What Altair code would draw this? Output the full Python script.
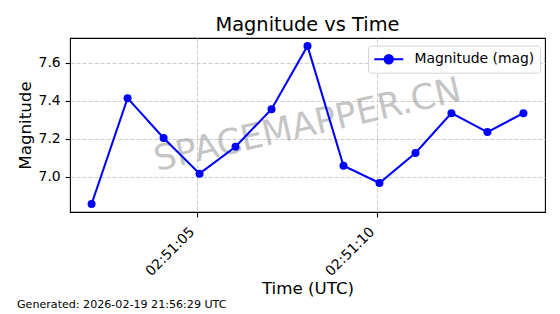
import altair as alt
import pandas as pd

# Data
times = [
    "2026-02-19T02:51:02.070Z", "2026-02-19T02:51:03.070Z", "2026-02-19T02:51:04.070Z",
    "2026-02-19T02:51:05.070Z", "2026-02-19T02:51:06.070Z", "2026-02-19T02:51:07.070Z",
    "2026-02-19T02:51:08.070Z", "2026-02-19T02:51:09.070Z", "2026-02-19T02:51:10.070Z",
    "2026-02-19T02:51:11.070Z", "2026-02-19T02:51:12.070Z", "2026-02-19T02:51:13.070Z",
    "2026-02-19T02:51:14.070Z",
]
mags = [6.856, 7.414, 7.204, 7.016, 7.158, 7.356, 7.689, 7.058, 6.967, 7.125, 7.335, 7.235, 7.335]
series_name = "Magnitude (mag)"
x_tick_seconds = [5, 10]
y_ticks = [7.0, 7.2, 7.4, 7.6]
title_text = "Magnitude vs Time"
x_title = "Time (UTC)"
y_title = "Magnitude"
watermark = "SPACEMAPPER.CN"
footer = "Generated: 2026-02-19 21:56:29 UTC"

df = pd.DataFrame({"time": times, "mag": mags, "series": [series_name] * len(times)})

FONT = "DejaVu Sans"
BLUE = "#0000ff"


def dt(sec, ms=0):
    return alt.DateTime(year=2026, month=2, date=19, hours=2, minutes=51,
                        seconds=sec, milliseconds=ms, utc=True)


x_enc = alt.X(
    "time:T",
    scale=alt.Scale(type="utc", domain=[dt(1, 470), dt(14, 670)]),
    axis=alt.Axis(
        values=[dt(s) for s in x_tick_seconds],
        format="%H:%M:%S",
        title=x_title,
        labelAngle=-45,
        labelAlign="right",
        labelBaseline="top",
        labelOffset=-10,
        labelPadding=7.5,
        labelOverlap=False,
        labelFlush=False,
        titleX=237.5,
        titleY=81,
        titleBaseline="alphabetic",
        titleAlign="center",
    ),
)
y_enc = alt.Y(
    "mag:Q",
    scale=alt.Scale(domain=[6.814, 7.731], nice=False, zero=False),
    axis=alt.Axis(
        values=y_ticks,
        format=".1f",
        title=y_title,
        titleX=-40,
        titleBaseline="alphabetic",
        labelPadding=4.9,
    ),
)

base = alt.Chart(df)

line = base.mark_line(color=BLUE, strokeWidth=2.08).encode(x=x_enc, y=y_enc)

# legend glyph: line with a filled marker, in units of half the symbol box
legend_path = "M-1,0L3,0M0.42,0A0.58,0.58,0,1,1,1.58,0A0.58,0.58,0,1,1,0.42,0Z"

points = base.mark_circle(size=64, opacity=1).encode(
    x=x_enc,
    y=y_enc,
    color=alt.Color(
        "series:N",
        scale=alt.Scale(range=[BLUE]),
        legend=alt.Legend(
            title=None,
            orient="none",
            legendX=298,
            legendY=7.7,
            symbolType=legend_path,
            symbolSize=210,
            symbolStrokeColor=BLUE,
            symbolStrokeWidth=2.08,
            symbolFillColor=BLUE,
            symbolOpacity=1,
            labelFont=FONT,
            labelFontSize=13.9,
            labelColor="black",
            labelOffset=24.5,
            padding=5,
            fillColor="rgba(255,255,255,0.8)",
            strokeColor="#d6d6d6",
            cornerRadius=3,
        ),
    ),
)

wm = alt.Chart(pd.DataFrame({"t": [watermark]})).mark_text(
    font=FONT, fontSize=35, color="#808080", opacity=0.45, angle=347,
    align="center", baseline="middle",
).encode(text="t:N", x=alt.value(237.5), y=alt.value(87))

foot = alt.Chart(pd.DataFrame({"t": [footer]})).mark_text(
    font=FONT, fontSize=11.1, color="black", align="left", baseline="alphabetic",
).encode(text="t:N", x=alt.value(-53), y=alt.value(270))

chart = alt.layer(wm, line, points, foot).properties(
    width=475,
    height=174,
    background="white",
    title=alt.TitleParams(title_text, font=FONT, fontSize=19.4, fontWeight="normal",
                          anchor="middle", frame="group", baseline="bottom",
                          offset=6, dy=22, color="black"),
    autosize=alt.AutoSizeParams(type="none"),
    padding={"left": 70, "top": 38, "right": 15, "bottom": 102},
).configure_view(
    stroke="black", strokeWidth=1.1,
).configure_axis(
    labelFont=FONT, labelFontSize=13.9, labelColor="black",
    titleFont=FONT, titleFontSize=16.7, titleFontWeight="normal", titleColor="black",
    domain=False, tickColor="black", tickWidth=1.1, tickSize=4.9,
    grid=True, gridColor="#cccccc", gridDash=[4, 2], gridWidth=1,
)

chart.save("out.html", embed_options={"renderer": "svg", "actions": False})
